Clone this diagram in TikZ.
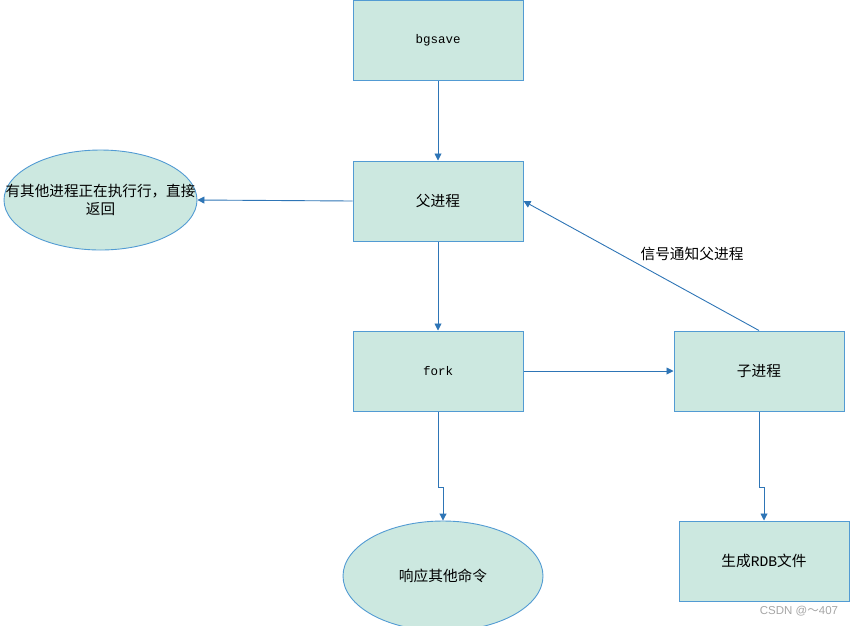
\documentclass[tikz,border=0pt]{standalone}
\usepackage{fontspec}
\setmainfont{Liberation Sans}
\newfontfamily\cjk{Noto Sans CJK SC}
\newfontfamily\monof{Liberation Mono}
\usetikzlibrary{shapes.geometric,arrows.meta}
\definecolor{boxfill}{RGB}{204,232,224}
\definecolor{boxline}{RGB}{82,155,211}
\definecolor{arrowc}{RGB}{46,117,182}
\begin{document}
\begin{tikzpicture}[x=1pt,y=-1pt,
  box/.style={draw=boxline,fill=boxfill,line width=1pt,minimum width=170pt,minimum height=80pt,inner sep=0pt},
  oval/.style={ellipse,draw=boxline,fill=boxfill,line width=0.9pt,inner sep=0pt},
  conn/.style={draw=arrowc,line width=0.9pt,-{Triangle[length=7pt,width=7pt]}},
  cn/.style={font=\cjk\fontsize{14.7}{17}\selectfont},
  mono/.style={font=\monof\fontsize{12.5}{15}\selectfont}]
\useasboundingbox (0,0) rectangle (853,625);
\node[box,mono] (bg) at (438,40.5) {bgsave};
\node[box,cn] (fa) at (438,201) {父进程};
\node[box,mono] (fk) at (438,371) {fork};
\node[box,cn] (zi) at (759,371) {子进程};
\node[box,cn] (rdb) at (764,561) {生成{\monof RDB}文件};
\node[oval,minimum width=193pt,minimum height=100pt] (ret) at (100.5,200) {};
\node[font=\cjk\fontsize{14.6}{18}\selectfont,align=center,inner sep=0pt] (rettxt) at (ret.center) {有其他进程正在执行行，直接\\返回};
\node[oval,minimum width=200pt,minimum height=110pt,cn] (resp) at (443,576) {响应其他命令};
\node[cn] (sig) at (692,254) {信号通知父进程};
\node[font=\fontsize{11.5}{13}\selectfont,text=gray!70] (wm) at (799,611) {CSDN @{\cjk ～}407};
\draw[conn] (bg.south) -- (fa.north);
\draw[conn] (fa.west) -- (ret.east);
\draw[conn] (fa.south) -- (fk.north);
\draw[conn] (fk.east) -- (zi.west);
\draw[conn] (zi.north) -- (fa.east);
\draw[conn] (fk.south) -- (438,487) -- (443,487) -- (resp.north);
\draw[conn] (zi.south) -- (759,487) -- (764,487) -- (rdb.north);
\end{tikzpicture}
\end{document}
